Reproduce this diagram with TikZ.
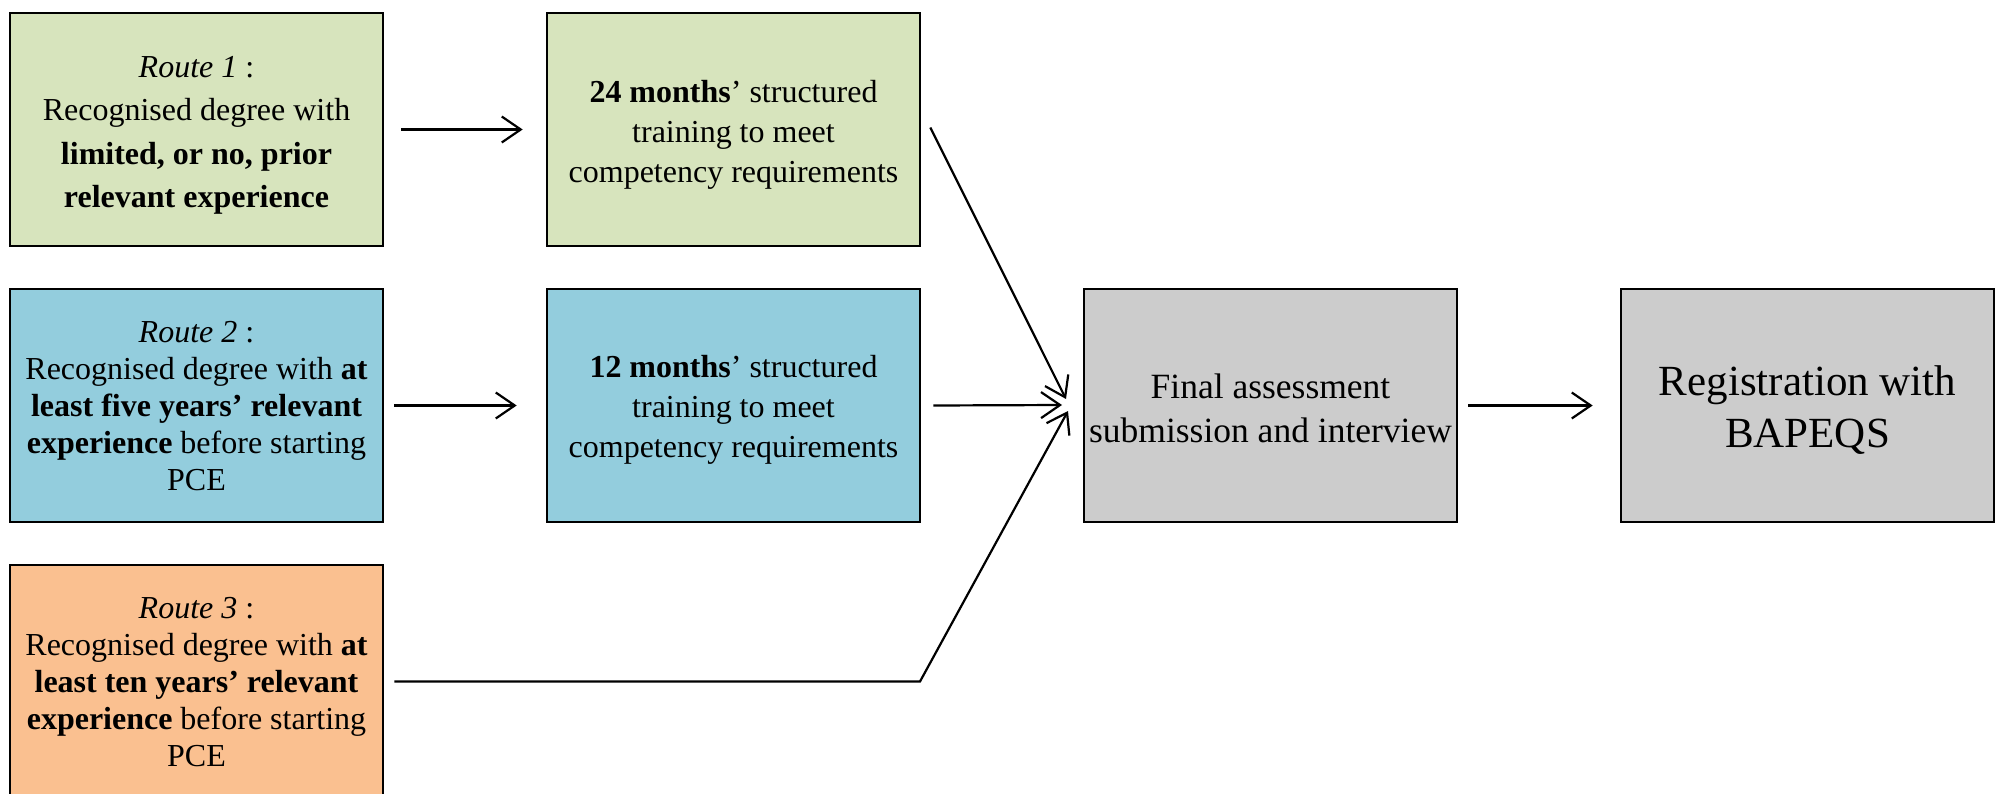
\documentclass[tikz,border=0pt]{standalone}
\usepackage{fontspec}
\setmainfont{Liberation Serif}
\usetikzlibrary{arrows.meta}

\definecolor{routegreen}{HTML}{D7E4BD}
\definecolor{routeblue}{HTML}{93CDDD}
\definecolor{routeorange}{HTML}{FAC090}
\definecolor{stepgray}{HTML}{CCCCCC}

\tikzset{
  box/.style={draw=black, line width=2.6bp, minimum width=373bp, minimum height=233bp,
    inner sep=0pt},
  boxtext/.style={inner sep=0pt, align=center, font=\fontsize{32bp}{#1}\selectfont},
  boxtext/.default=37bp,
  flowarrow/.style={line width=2.2bp, -{Straight Barb[length=19bp,width=26bp]}}
}

\begin{document}
\begin{tikzpicture}[x=1bp, y=-1bp]
  \useasboundingbox (0,0) rectangle (1996,794);
  \clip (0,0) rectangle (1996,794);

  % boxes
  \node[box, fill=routegreen]  (r1)  at (196.5,129.5) {};
  \node[box, fill=routeblue]   (r2)  at (196.5,405.5) {};
  \node[box, fill=routeorange] (r3)  at (196.5,681.5) {};
  \node[box, fill=routegreen]  (t24) at (733.5,129.5) {};
  \node[box, fill=routeblue]   (t12) at (733.5,405.5) {};
  \node[box, fill=stepgray]    (fin) at (1270.5,405.5) {};
  \node[box, fill=stepgray]    (reg) at (1807.5,405.5) {};

  % entry routes
  \node[boxtext=43.5bp, yshift=-6bp] (r1txt) at (r1)
    {\textit{Route 1} :\\Recognised degree with\\\textbf{limited, or no, prior}\\\textbf{relevant experience}};
  \node[boxtext, yshift=-1bp] (r2txt) at (r2)
    {\textit{Route 2} :\\Recognised degree with \textbf{at}\\\textbf{least five years’ relevant}\\\textbf{experience} before starting\\PCE};
  \node[boxtext, yshift=-1bp] (r3txt) at (r3)
    {\textit{Route 3} :\\Recognised degree with \textbf{at}\\\textbf{least ten years’ relevant}\\\textbf{experience} before starting\\PCE};

  % structured training
  \node[boxtext=40bp, yshift=-5bp] (t24txt) at (t24)
    {\textbf{24 months}’ structured\\training to meet\\competency requirements};
  \node[boxtext=40bp, yshift=-4bp] (t12txt) at (t12)
    {\textbf{12 months}’ structured\\training to meet\\competency requirements};

  % final steps
  \node[inner sep=0pt, align=center, font=\fontsize{35.5bp}{44.5bp}\selectfont, yshift=-3bp] (fintxt) at (fin)
    {Final assessment\\submission and interview};
  \node[inner sep=0pt, align=center, font=\fontsize{43bp}{52bp}\selectfont, yshift=-5bp] (regtxt) at (reg)
    {Registration with\\BAPEQS};

  % arrow ends at the final assessment
  \coordinate (tipA) at (1066,399);
  \coordinate (tipB) at (1062,405);
  \coordinate (tipC) at (1068,411);
  \coordinate (bend) at (920,681.5);

  \draw[flowarrow] ([xshift=17bp]r1.east) -- ([xshift=-23bp]t24.west);
  \draw[flowarrow] ([xshift=10bp]r2.east) -- ([xshift=-29bp]t12.west);
  \draw[flowarrow] ([xshift=9bp,yshift=2bp]t24.east) -- (tipA);
  \draw[flowarrow] ([xshift=12bp]t12.east) -- (tipB);
  \draw[flowarrow] ([xshift=10bp]r3.east) -- (bend) -- (tipC);
  \draw[flowarrow] ([xshift=10bp]fin.east) -- ([xshift=-27bp]reg.west);
\end{tikzpicture}
\end{document}
